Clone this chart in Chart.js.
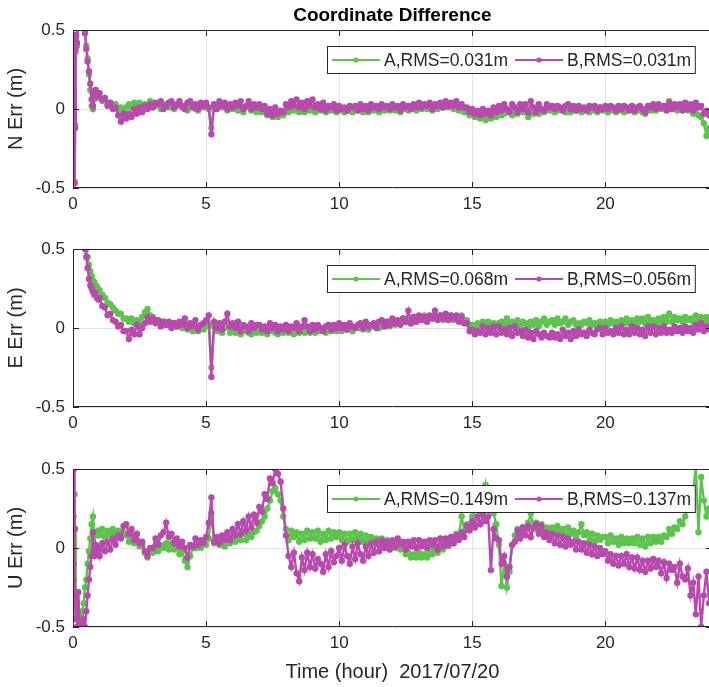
<!DOCTYPE html>
<html>
<head>
<meta charset="utf-8">
<script src="https://cdn.jsdelivr.net/npm/chart.js@4.4.1/dist/chart.umd.min.js"></script>
<style>
  html, body { margin: 0; padding: 0; background: #fff; }
  body { width: 709px; height: 687px; overflow: hidden; position: relative; }
  canvas { position: absolute; left: 0; }
</style>
</head>
<body>
<canvas id="panelN" width="715" height="220" style="top:0px"></canvas>
<canvas id="panelE" width="715" height="219" style="top:220px"></canvas>
<canvas id="panelU" width="715" height="248" style="top:439px"></canvas>
<script>
// Epochs (hours of day)
const hours = [
  0,0.02,0.04,0.06,0.08,0.1,0.12,0.15,0.2,0.25,0.3,0.35,0.4,0.45,0.5,0.55,0.6,0.65,0.7,0.75,0.8,0.85,0.9,0.95,
  1,1.1,1.2,1.3,1.4,1.5,1.6,1.7,1.8,1.9,
  2,2.1,2.2,2.3,2.4,2.5,2.6,2.7,2.8,2.9,
  3,3.1,3.2,3.3,3.4,3.5,3.6,3.7,3.8,3.9,
  4,4.1,4.2,4.3,4.4,4.5,4.6,4.7,4.8,4.9,
  5,5.1,5.2,5.3,5.4,5.5,5.6,5.7,5.8,5.9,
  6,6.1,6.2,6.3,6.4,6.5,6.6,6.7,6.8,6.9,
  7,7.1,7.2,7.3,7.4,7.5,7.6,7.7,7.8,7.9,
  8,8.1,8.2,8.3,8.4,8.5,8.6,8.7,8.8,8.9,
  9,9.1,9.2,9.3,9.4,9.5,9.6,9.7,9.8,9.9,
  10,10.1,10.2,10.3,10.4,10.5,10.6,10.7,10.8,10.9,
  11,11.1,11.2,11.3,11.4,11.5,11.6,11.7,11.8,11.9,
  12,12.1,12.2,12.3,12.4,12.5,12.6,12.7,12.8,12.9,
  13,13.1,13.2,13.3,13.4,13.5,13.6,13.7,13.8,13.9,
  14,14.1,14.2,14.3,14.4,14.5,14.6,14.7,14.8,14.9,
  15,15.1,15.2,15.3,15.4,15.5,15.6,15.7,15.8,15.9,
  16,16.1,16.2,16.3,16.4,16.5,16.6,16.7,16.8,16.9,
  17,17.1,17.2,17.3,17.4,17.5,17.6,17.7,17.8,17.9,
  18,18.1,18.2,18.3,18.4,18.5,18.6,18.7,18.8,18.9,
  19,19.1,19.2,19.3,19.4,19.5,19.6,19.7,19.8,19.9,
  20,20.1,20.2,20.3,20.4,20.5,20.6,20.7,20.8,20.9,
  21,21.1,21.2,21.3,21.4,21.5,21.6,21.7,21.8,21.9,
  22,22.1,22.2,22.3,22.4,22.5,22.6,22.7,22.8,22.9,
  23,23.1,23.2,23.3,23.4,23.5,23.6,23.7,23.8,23.9
];

// North error (m)
const northA = [
  0.44,0.46,0.4,-0.46,-0.1,0.36,0.45,0.4,0.56,0.72,0.76,0.72,0.62,0.5,0.4,0.32,0.22,0.12,0.02,0.0,0.06,0.1,0.07,0.08,
  0.07,0.05,0.06,0.03,0.04,0.02,0.03,0.0,0.01,-0.01,
  0.01,0.03,0.01,0.04,0.02,0.04,0.01,0.03,0.02,0.05,
  0.04,0.02,0.03,0.0,0.02,0.03,0.01,0.03,0.0,0.02,
  0.03,0.01,0.02,-0.01,0.03,0.02,0.0,-0.01,0.02,0.01,
  0.02,0.0,-0.12,0.02,0.0,0.03,0.01,0.02,-0.01,0.02,
  0.0,0.02,-0.01,0.01,-0.02,0.01,0.02,-0.01,0.01,-0.02,
  0.0,-0.02,-0.01,-0.04,-0.02,-0.05,-0.03,-0.05,-0.03,-0.04,
  -0.01,-0.02,0.01,-0.01,0.0,-0.02,0.01,-0.02,0.01,-0.01,
  0.0,-0.02,0.01,-0.01,0.0,-0.02,0.0,-0.01,0.0,-0.02,
  0.0,-0.01,-0.02,0.0,-0.01,-0.02,0.0,-0.01,0.01,-0.02,
  0.0,-0.02,0.01,-0.01,0.0,-0.02,0.01,-0.01,0.01,-0.01,
  0.01,-0.01,0.0,-0.02,0.01,0.0,-0.01,0.0,0.01,-0.01,
  0.02,0.0,0.01,0.0,0.01,-0.01,0.02,0.0,0.02,0.01,
  0.03,0.01,0.02,0.0,0.02,-0.01,0.0,-0.02,-0.01,-0.04,
  -0.02,-0.05,-0.04,-0.06,-0.04,-0.07,-0.03,-0.06,-0.02,-0.05,
  -0.02,-0.04,-0.03,-0.02,-0.01,-0.04,-0.02,-0.03,-0.01,-0.02,
  -0.01,-0.05,-0.02,-0.03,0.0,-0.03,-0.01,-0.02,0.0,-0.01,
  0.0,-0.02,-0.01,0.0,-0.01,-0.02,0.01,-0.02,0.0,-0.01,
  0.0,-0.02,-0.01,0.0,-0.02,-0.01,0.0,-0.02,0.01,-0.01,
  0.0,-0.02,-0.01,0.0,-0.02,-0.01,0.0,-0.02,-0.01,0.0,
  0.0,-0.02,-0.01,0.0,-0.02,-0.03,0.0,-0.01,0.02,-0.01,
  0.01,0.0,0.02,0.01,0.05,0.02,0.01,-0.01,0.02,0.0,
  0.02,-0.01,0.01,-0.03,0.01,-0.04,-0.05,-0.09,-0.17,-0.12
];
const northB = [
  0.45,0.47,0.42,-0.47,-0.12,0.38,0.47,0.42,0.55,0.7,0.75,0.7,0.6,0.48,0.38,0.3,0.24,0.16,0.06,0.02,0.1,0.12,0.08,0.1,
  0.1,0.06,0.07,0.02,0.04,0.0,0.01,-0.04,-0.08,-0.03,
  -0.06,-0.03,-0.05,0.0,-0.03,0.01,-0.02,0.02,0.0,0.03,
  0.01,0.04,0.03,0.05,0.0,0.02,0.04,0.05,0.01,0.03,
  0.05,0.02,0.0,0.04,0.05,0.01,0.03,0.0,0.04,0.02,
  0.04,0.01,-0.16,0.03,0.0,0.05,0.02,0.04,0.0,0.03,
  0.01,0.04,0.02,0.05,0.0,0.02,0.05,0.0,0.03,0.01,
  0.03,0.0,0.02,-0.03,0.0,-0.04,0.01,-0.03,-0.01,-0.02,
  0.03,0.01,0.05,0.02,0.06,0.01,0.04,0.0,0.05,0.02,
  0.06,0.01,0.03,0.0,0.04,-0.01,0.02,0.01,0.03,-0.01,
  0.02,0.0,0.01,-0.01,0.02,0.01,0.02,-0.01,0.03,0.0,
  0.02,-0.01,0.03,0.01,0.02,0.0,0.03,0.01,0.02,0.0,
  0.03,0.01,0.02,-0.01,0.03,0.01,0.02,0.0,0.03,0.01,
  0.04,0.01,0.03,0.02,0.04,0.0,0.03,0.02,0.04,0.01,
  0.05,0.02,0.04,0.02,0.05,0.01,0.03,0.01,0.01,-0.02,
  0.0,-0.03,-0.01,-0.04,0.0,-0.03,-0.01,-0.04,0.01,-0.02,
  0.02,-0.01,0.03,0.0,-0.02,0.03,0.01,-0.02,0.03,0.0,
  0.03,-0.02,0.05,0.01,-0.02,0.03,0.0,-0.01,0.03,0.01,
  0.02,0.0,0.02,0.01,-0.01,0.02,0.03,0.0,0.02,-0.01,
  0.02,0.0,0.01,-0.01,0.02,0.01,0.02,-0.01,0.01,0.0,
  0.02,0.0,0.02,0.01,-0.01,0.02,0.0,0.02,0.01,-0.01,
  0.02,-0.01,0.01,0.02,0.0,-0.02,0.02,0.01,0.03,0.0,
  0.03,0.01,0.02,-0.01,0.04,0.0,0.03,0.01,0.03,-0.01,
  0.04,0.0,0.03,-0.01,0.04,0.01,0.02,-0.03,-0.01,-0.04
];

// East error (m); no solution shown before 0.4 h
const eastA = [
  null,null,null,null,null,null,null,null,null,null,null,null,0.62,0.56,0.5,0.45,0.4,0.36,0.33,0.3,0.29,0.27,0.26,0.24,
  0.24,0.21,0.19,0.16,0.15,0.13,0.11,0.09,0.09,0.06,
  0.06,0.04,0.06,0.03,0.05,0.03,0.07,0.1,0.12,0.08,
  0.07,0.05,0.05,0.03,0.04,0.02,0.03,0.01,0.03,0.01,
  0.02,0.0,0.02,-0.01,0.01,-0.02,0.0,-0.02,0.01,-0.01,
  0.01,0.02,-0.25,0.01,-0.02,0.0,-0.03,0.0,0.01,-0.03,
  0.0,-0.03,-0.01,-0.04,-0.01,-0.02,-0.03,-0.04,-0.01,-0.03,
  -0.01,-0.03,-0.02,-0.04,0.0,-0.02,-0.03,-0.04,-0.01,-0.03,
  -0.01,-0.03,0.0,-0.04,-0.02,-0.03,-0.01,-0.03,-0.02,-0.03,
  -0.01,-0.03,-0.02,-0.02,-0.01,-0.03,0.0,-0.02,-0.01,-0.02,
  0.0,-0.02,0.0,-0.01,0.01,-0.02,0.0,0.0,0.01,-0.01,
  0.02,-0.01,0.01,0.01,0.02,0.0,0.03,0.01,0.04,0.01,
  0.04,0.02,0.03,0.03,0.06,0.04,0.05,0.03,0.07,0.04,
  0.07,0.05,0.08,0.05,0.07,0.06,0.08,0.06,0.08,0.05,
  0.08,0.06,0.08,0.05,0.07,0.05,0.08,0.05,0.05,0.02,
  0.02,0.0,0.03,0.0,0.04,0.01,0.04,0.02,0.03,0.02,
  0.03,0.04,0.02,0.06,0.02,0.04,0.03,0.05,0.01,0.04,
  0.03,0.0,0.04,0.02,0.05,0.01,0.04,0.06,0.02,0.04,
  0.05,0.02,0.06,0.03,0.04,0.06,0.02,0.04,0.05,0.02,
  0.03,0.02,0.04,0.03,0.05,0.02,0.03,0.01,0.04,0.02,
  0.04,0.02,0.05,0.03,0.04,0.02,0.05,0.03,0.06,0.03,
  0.05,0.03,0.06,0.04,0.06,0.03,0.07,0.04,0.05,0.03,
  0.06,0.04,0.07,0.04,0.09,0.04,0.07,0.05,0.06,0.04,
  0.07,0.05,0.06,0.04,0.08,0.05,0.07,0.03,0.07,0.04
];
const eastB = [
  null,null,null,null,null,null,null,null,null,null,null,null,0.56,0.5,0.45,0.38,0.31,0.27,0.25,0.23,0.21,0.22,0.19,0.18,
  0.19,0.14,0.13,0.08,0.09,0.05,0.04,0.01,0.02,-0.02,
  -0.02,-0.07,-0.01,-0.04,0.02,-0.04,0.0,0.03,0.07,0.04,
  0.06,0.03,0.05,0.01,0.04,0.02,0.04,0.0,0.03,0.01,
  0.04,0.02,0.06,0.0,0.03,0.01,0.05,-0.01,0.02,0.03,
  0.05,0.08,-0.31,0.04,0.0,0.03,-0.01,0.04,0.09,0.01,
  0.03,0.0,0.04,-0.02,0.02,0.01,-0.02,0.03,0.0,0.02,
  0.02,-0.01,0.01,-0.02,0.03,0.0,0.02,-0.02,0.01,-0.01,
  0.02,-0.02,0.01,0.0,0.03,-0.02,0.01,0.05,0.01,-0.02,
  0.02,-0.01,0.02,0.0,-0.02,0.01,0.02,-0.01,0.02,0.0,
  0.03,0.0,0.02,-0.01,0.03,0.01,0.0,0.02,0.03,0.0,
  0.04,0.01,0.02,0.03,0.0,0.04,0.05,0.01,0.04,0.02,
  0.06,0.03,0.05,0.02,0.06,0.04,0.11,0.03,0.07,0.04,
  0.08,0.05,0.07,0.04,0.08,0.06,0.11,0.05,0.08,0.06,
  0.09,0.05,0.08,0.06,0.08,0.04,0.07,0.03,0.03,-0.02,
  -0.01,-0.04,-0.02,-0.03,0.01,-0.04,0.0,-0.03,0.01,-0.04,
  0.01,-0.03,-0.01,-0.04,0.0,-0.05,0.01,-0.03,-0.02,-0.05,
  -0.01,-0.06,-0.03,-0.07,-0.02,-0.04,-0.06,-0.03,-0.05,-0.06,
  -0.03,-0.06,-0.04,-0.07,-0.01,-0.05,-0.03,-0.07,-0.02,-0.05,
  -0.01,-0.04,-0.03,-0.05,-0.01,-0.03,-0.04,-0.01,0.0,-0.04,
  0.0,-0.03,-0.02,-0.04,0.0,-0.03,0.01,-0.04,-0.01,-0.04,
  0.01,-0.03,0.0,-0.04,-0.01,-0.05,0.01,-0.03,0.01,-0.04,
  0.0,-0.03,0.01,-0.03,-0.01,-0.03,0.01,-0.02,0.0,-0.03,
  0.01,-0.02,0.0,-0.03,0.02,-0.01,0.03,-0.02,0.01,-0.01
];

// Up error (m)
const upA = [
  0.55,0.2,-0.2,0.34,0.12,-0.3,-0.45,-0.35,-0.5,-0.42,-0.48,-0.4,-0.35,-0.25,-0.2,-0.1,-0.02,0.06,0.15,0.2,0.08,0.1,0.08,0.11,
  0.08,0.12,0.07,0.11,0.08,0.12,0.09,0.11,0.08,0.1,
  0.08,0.04,0.06,0.03,0.05,0.01,0.02,-0.03,-0.06,-0.02,
  -0.03,0.01,-0.02,0.02,0.0,0.03,-0.01,0.03,-0.01,0.01,
  -0.04,-0.02,-0.08,-0.12,-0.05,0.0,0.0,0.02,0.0,0.04,
  0.02,0.06,0.22,0.03,0.05,0.02,0.05,0.01,0.07,0.03,
  0.07,0.04,0.08,0.05,0.1,0.05,0.09,0.07,0.1,0.11,
  0.14,0.17,0.2,0.25,0.3,0.36,0.38,0.34,0.3,0.2,
  0.12,0.05,0.11,0.07,0.1,0.04,0.09,0.05,0.11,0.06,
  0.1,0.06,0.11,0.04,0.09,0.05,0.11,0.06,0.1,0.07,
  0.1,0.05,0.09,0.04,0.09,0.05,0.1,0.06,0.09,0.04,
  0.08,0.04,0.07,0.03,0.06,0.02,0.06,0.01,0.05,0.02,
  0.04,0.0,0.04,-0.01,0.01,-0.04,-0.03,-0.06,-0.04,-0.06,
  -0.03,-0.06,-0.04,-0.06,-0.01,-0.04,0.0,-0.03,0.02,-0.01,
  0.03,0.01,0.05,0.03,0.09,0.08,0.2,0.11,0.15,0.14,
  0.2,0.24,0.26,0.23,0.3,0.4,0.28,0.25,0.22,0.15,
  0.02,-0.24,-0.1,-0.25,-0.15,0.02,0.08,0.12,0.09,0.13,
  0.12,0.16,0.22,0.12,0.16,0.1,0.15,0.1,0.13,0.08,
  0.13,0.09,0.14,0.1,0.12,0.08,0.13,0.09,0.11,0.07,
  0.1,0.15,0.08,0.1,0.05,0.09,0.04,0.08,0.05,0.07,
  0.07,0.03,0.08,0.04,0.06,0.02,0.07,0.03,0.06,0.03,
  0.06,0.03,0.07,0.02,0.06,0.01,0.07,0.03,0.07,0.04,
  0.07,0.04,0.08,0.07,0.12,0.09,0.13,0.12,0.17,0.15,
  0.2,0.25,0.28,0.35,0.52,0.1,0.45,0.3,0.2,0.25
];
const upB = [
  0.6,-0.1,0.5,0.12,-0.35,-0.45,-0.3,-0.5,-0.28,-0.48,-0.55,-0.5,-0.45,-0.5,-0.4,-0.3,-0.2,-0.12,-0.05,0.1,-0.05,0.02,-0.03,0.0,
  -0.05,0.03,-0.02,0.04,-0.01,0.06,0.02,0.08,0.06,0.14,
  0.15,0.09,0.12,0.05,0.09,0.03,0.04,-0.02,-0.05,0.0,
  0.0,0.06,0.02,0.08,0.1,0.16,0.07,0.09,0.03,0.06,
  0.01,0.04,0.0,-0.06,0.02,0.01,0.06,0.02,0.05,0.03,
  0.07,0.16,0.32,0.04,0.07,0.03,0.08,0.05,0.1,0.05,
  0.12,0.08,0.15,0.09,0.17,0.11,0.2,0.13,0.21,0.16,
  0.26,0.23,0.34,0.31,0.44,0.41,0.5,0.47,0.42,0.25,
  0.08,-0.05,-0.12,-0.03,-0.16,-0.21,-0.06,-0.14,-0.03,-0.12,
  -0.04,-0.13,-0.07,-0.1,-0.15,-0.04,-0.12,-0.02,-0.09,-0.05,
  0.0,-0.08,0.02,-0.05,-0.1,0.01,-0.07,0.03,-0.04,-0.08,
  0.01,-0.05,0.03,-0.03,0.04,-0.02,0.05,0.0,0.04,-0.01,
  0.05,0.01,0.06,0.02,0.04,-0.01,0.04,0.01,0.05,0.0,
  0.05,0.01,0.04,0.0,0.05,0.02,0.05,-0.01,0.06,0.01,
  0.06,0.02,0.07,0.03,0.08,0.05,0.1,0.07,0.14,0.11,
  0.17,0.13,0.2,0.15,0.21,0.17,0.2,-0.14,0.12,0.06,
  0.05,-0.1,-0.05,-0.18,-0.12,0.02,0.04,0.11,0.06,0.13,
  0.08,0.14,0.07,0.13,0.15,0.09,0.14,0.07,0.1,0.05,
  0.09,0.03,0.08,0.02,0.07,0.01,0.06,0.02,0.04,-0.01,
  0.04,-0.01,0.03,-0.03,0.02,-0.04,0.01,-0.05,0.0,-0.04,
  -0.02,-0.08,-0.04,-0.1,-0.05,-0.11,-0.05,-0.1,-0.04,-0.12,
  -0.06,-0.13,-0.06,-0.14,-0.08,-0.15,-0.08,-0.13,-0.07,-0.12,
  -0.08,-0.16,-0.09,-0.19,-0.1,-0.14,-0.12,-0.22,-0.1,-0.18,
  -0.2,-0.13,-0.3,-0.22,-0.42,-0.18,-0.5,-0.3,-0.15,-0.35
];

// RMS per component for A and B
const rmsNorth = [0.031, 0.031];
const rmsEast  = [0.068, 0.056];
const rmsUp    = [0.149, 0.137];

const seriesNames = ['A', 'B'];
const seriesColors = ['#5cc44c', '#b84aae'];
const xTicks = [0, 5, 10, 15, 20];
const yTicks = [-0.5, 0, 0.5];

const FONT = '"Liberation Sans", Arial, Helvetica, sans-serif';
const INK = '#262626';
Chart.defaults.font.family = FONT;
Chart.defaults.color = INK;

// axes box with inward tick marks
const framePlugin = {
  id: 'frame',
  afterDatasetsDraw(chart) {
    const { ctx, chartArea: a, scales: { x, y } } = chart;
    ctx.save();
    ctx.strokeStyle = INK;
    ctx.lineWidth = 1;
    ctx.beginPath();
    ctx.rect(a.left + 0.5, a.top + 0.5, a.right - a.left - 1, a.bottom - a.top - 1);
    xTicks.forEach(v => {
      const px = Math.round(x.getPixelForValue(v)) + 0.5;
      ctx.moveTo(px, a.bottom); ctx.lineTo(px, a.bottom - 6);
      ctx.moveTo(px, a.top); ctx.lineTo(px, a.top + 6);
    });
    yTicks.forEach(v => {
      const py = Math.round(y.getPixelForValue(v)) + 0.5;
      ctx.moveTo(a.left, py); ctx.lineTo(a.left + 6, py);
      ctx.moveTo(a.right, py); ctx.lineTo(a.right - 6, py);
    });
    ctx.stroke();
    ctx.restore();
  }
};

// boxed legend inside the upper right of the axes: line + marker, then label
const boxLegendPlugin = {
  id: 'boxLegend',
  afterDraw(chart) {
    const { ctx, chartArea: a } = chart;
    const ds = chart.data.datasets;
    ctx.save();
    ctx.font = '17.5px ' + FONT;
    const lineLen = 48, gapText = 4, gapItem = 7, pad = 5, h = 28;
    const widths = ds.map(d => ctx.measureText(d.label).width);
    const total = pad * 2 + ds.length * (lineLen + gapText) + widths.reduce((s, w) => s + w, 0) + gapItem * (ds.length - 1);
    const right = a.right - 16;
    const left = Math.round(right - total);
    const top = a.top + 16;
    ctx.fillStyle = '#fff';
    ctx.fillRect(left, top, right - left, h);
    ctx.strokeStyle = INK;
    ctx.lineWidth = 1;
    ctx.strokeRect(left + 0.5, top + 0.5, right - left - 1, h - 1);
    const cy = top + h / 2;
    let cx = left + pad;
    ds.forEach((d, i) => {
      ctx.strokeStyle = d.borderColor;
      ctx.lineWidth = 2;
      ctx.beginPath();
      ctx.moveTo(cx, cy); ctx.lineTo(cx + lineLen, cy);
      ctx.stroke();
      ctx.fillStyle = d.borderColor;
      ctx.beginPath();
      ctx.arc(cx + lineLen / 2, cy, 2.6, 0, Math.PI * 2);
      ctx.fill();
      cx += lineLen + gapText;
      ctx.fillStyle = INK;
      ctx.textBaseline = 'middle';
      ctx.textAlign = 'left';
      ctx.fillText(d.label, cx, cy + 1);
      cx += widths[i] + gapItem;
    });
    ctx.restore();
  }
};

function makePanel(canvasId, seriesA, seriesB, rms, yTitle, cfg) {
  const values = [seriesA, seriesB];
  const datasets = values.map((vals, i) => ({
    label: seriesNames[i] + ',RMS=' + rms[i].toFixed(3) + 'm',
    data: hours.map((t, k) => ({ x: t, y: vals[k] })),
    borderColor: seriesColors[i],
    backgroundColor: seriesColors[i],
    borderWidth: 2.4,
    pointRadius: 3.2,
    pointBorderWidth: 0,
    pointBackgroundColor: seriesColors[i],
    pointHoverRadius: 0,
    tension: 0,
    spanGaps: false,
    clip: 0,
    order: i === 0 ? 2 : 1
  }));

  return new Chart(document.getElementById(canvasId), {
    type: 'line',
    data: { datasets },
    options: {
      responsive: false,
      animation: false,
      devicePixelRatio: 1,
      events: [],
      layout: { padding: { top: cfg.padTop, left: 0, right: 0, bottom: 0 } },
      plugins: {
        legend: { display: false },
        tooltip: { enabled: false },
        title: cfg.title ? {
          display: true,
          text: cfg.title,
          fullSize: false,
          color: '#000',
          font: { size: 19, weight: 'bold', lineHeight: '20px' },
          padding: { top: 6, bottom: 4 }
        } : { display: false }
      },
      scales: {
        x: {
          type: 'linear',
          min: 0,
          max: 24,
          afterBuildTicks: s => { s.ticks = xTicks.map(v => ({ value: v })); },
          afterFit: s => { s.height = cfg.xHeight; },
          grid: { color: '#e3e3e3', lineWidth: 1, drawTicks: false },
          border: { display: false },
          ticks: { autoSkip: false, maxRotation: 0, padding: 6, color: INK, font: { size: 17 } },
          title: cfg.xTitle ? {
            display: true,
            text: cfg.xTitle,
            color: INK,
            font: { size: 20, lineHeight: 1.2 },
            padding: { top: 0, bottom: 3 }
          } : { display: false }
        },
        y: {
          type: 'linear',
          min: -0.5,
          max: 0.5,
          afterBuildTicks: s => { s.ticks = yTicks.map(v => ({ value: v })); },
          afterFit: s => { s.width = 73; },
          grid: { color: '#e3e3e3', lineWidth: 1, drawTicks: false },
          border: { display: false },
          ticks: { autoSkip: false, padding: 8, color: INK, font: { size: 17 } },
          title: {
            display: true,
            text: yTitle,
            color: INK,
            font: { size: 20, lineHeight: 1.2 },
            padding: { top: 4, bottom: 0 }
          }
        }
      }
    },
    plugins: [framePlugin, boxLegendPlugin]
  });
}

makePanel('panelN', northA, northB, rmsNorth, 'N Err (m)', { padTop: 0, xHeight: 32, title: 'Coordinate Difference' });
makePanel('panelE', eastA, eastB, rmsEast, 'E Err (m)', { padTop: 29, xHeight: 32 });
makePanel('panelU', upA, upB, rmsUp, 'U Err (m)', { padTop: 30, xHeight: 60, xTitle: 'Time (hour)  2017/07/20' });
</script>
</body>
</html>
